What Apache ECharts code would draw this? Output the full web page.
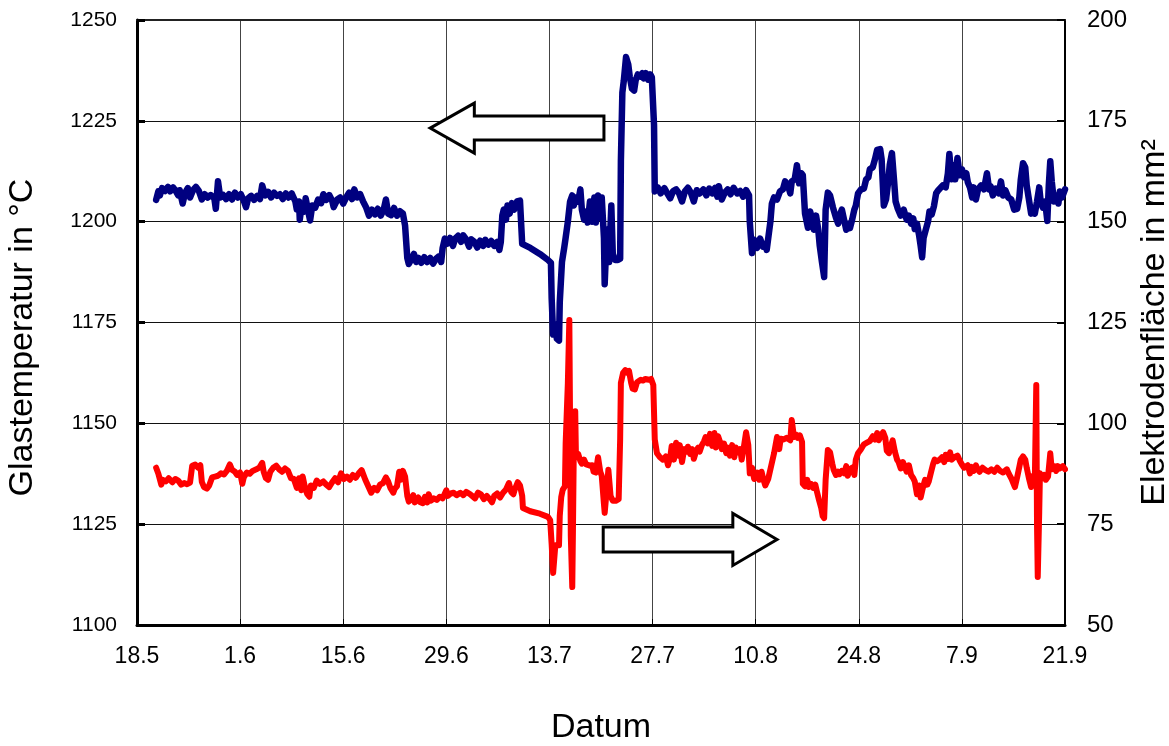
<!DOCTYPE html>
<html>
<head>
<meta charset="utf-8">
<script src="https://cdn.jsdelivr.net/npm/echarts@6/dist/echarts.min.js"></script>
<style>
  html, body { margin: 0; padding: 0; background: #fff; overflow: hidden; }
  #chart { width: 1169px; height: 746px; }
</style>
</head>
<body>
<div id="chart"></div>
<script>
// Datum tick labels, one every 14 days starting at 18.5
const datumLabels = ['18.5', '1.6', '15.6', '29.6', '13.7', '27.7', '10.8', '24.8', '7.9', '21.9'];
const tageProTick = 14;
const tageGesamt = 126;

// Glastemperatur in °C: [Tag seit 18.5, Wert]
const glastemperatur = [
  [2.6,1205.4],[2.9,1207.5],[3.1,1206.5],[3.4,1208.3],[3.8,1207.6],[4.2,1208.6],[4.5,1207.5],[4.9,1208.5],
  [5.2,1207.8],[5.6,1206.5],[5.8,1207.8],[6.2,1204.5],[6.5,1207.0],[6.9,1208.3],[7.2,1206.0],[7.6,1207.8],
  [8.0,1208.6],[8.4,1207.6],[8.8,1205.5],[9.2,1206.8],[9.6,1206.0],[10.0,1206.6],[10.5,1205.8],[10.7,1203.2],
  [11.0,1210.0],[11.3,1206.0],[11.7,1206.6],[12.1,1205.6],[12.5,1206.8],[12.9,1205.5],[13.3,1207.2],[13.7,1206.0],
  [14.1,1206.8],[14.5,1205.2],[14.8,1203.6],[15.1,1205.8],[15.5,1206.4],[15.9,1205.4],[16.3,1206.4],[16.7,1205.6],
  [17.0,1209.0],[17.4,1206.5],[17.8,1207.4],[18.2,1206.0],[18.6,1207.2],[19.0,1206.4],[19.4,1206.8],[19.8,1205.6],
  [20.2,1207.0],[20.6,1206.0],[21.0,1207.0],[21.5,1205.0],[21.7,1203.0],[22.0,1205.0],[22.1,1200.5],[22.4,1204.5],
  [22.7,1202.5],[22.9,1205.8],[23.2,1203.0],[23.5,1200.3],[23.8,1204.0],[24.2,1203.5],[24.6,1205.5],[25.0,1204.6],
  [25.3,1206.8],[25.7,1205.4],[26.1,1206.6],[26.5,1205.2],[26.7,1203.6],[27.2,1205.5],[27.6,1206.0],[28.0,1204.5],
  [28.4,1206.0],[28.8,1207.2],[29.2,1205.6],[29.5,1208.0],[29.9,1206.0],[30.3,1206.8],[30.7,1205.0],[31.1,1203.6],
  [31.5,1201.5],[31.9,1203.0],[32.3,1201.8],[32.7,1203.2],[33.1,1201.5],[33.5,1203.0],[33.8,1205.5],[34.1,1202.0],
  [34.5,1201.6],[34.9,1203.4],[35.3,1201.5],[35.7,1202.6],[36.1,1202.0],[36.4,1199.0],[36.7,1191.0],[36.9,1189.5],
  [37.3,1190.8],[37.6,1192.0],[37.9,1190.0],[38.2,1191.0],[38.6,1189.8],[39.0,1191.2],[39.4,1190.0],[39.8,1191.0],
  [40.2,1189.6],[40.6,1190.8],[41.0,1191.4],[41.3,1190.0],[41.5,1193.5],[41.8,1195.8],[42.1,1194.5],[42.5,1196.0],
  [42.9,1194.0],[43.2,1195.8],[43.6,1196.5],[44.0,1195.0],[44.3,1196.6],[44.7,1195.6],[45.1,1193.8],[45.4,1195.6],
  [45.8,1195.0],[46.2,1193.6],[46.6,1195.3],[47.0,1194.0],[47.3,1195.5],[47.7,1194.3],[48.1,1195.2],[48.5,1194.0],
  [48.9,1195.0],[49.2,1193.0],[49.4,1195.0],[49.6,1201.5],[49.8,1203.0],[50.1,1200.5],[50.3,1204.0],[50.6,1202.0],
  [50.9,1204.6],[51.2,1203.0],[51.6,1205.0],[52.0,1205.2],[52.3,1194.5],[53.4,1193.5],[54.7,1192.0],[55.8,1190.5],
  [56.2,1189.8],[56.3,1181.0],[56.5,1172.0],[56.8,1174.5],[57.0,1171.0],[57.3,1170.5],[57.4,1180.0],[57.7,1190.0],
  [58.0,1193.5],[58.2,1196.0],[58.5,1200.0],[58.8,1205.0],[59.1,1206.5],[59.3,1204.0],[59.6,1206.0],[59.9,1205.0],
  [60.2,1208.0],[60.4,1203.0],[60.7,1200.5],[61.0,1202.5],[61.2,1199.8],[61.5,1205.0],[61.8,1200.0],[62.1,1206.0],
  [62.3,1199.8],[62.6,1206.5],[62.9,1201.0],[63.1,1206.0],[63.4,1196.0],[63.5,1184.5],[63.8,1198.0],[64.1,1190.0],
  [64.4,1204.0],[64.6,1192.0],[64.9,1190.5],[65.3,1190.5],[65.6,1190.8],[65.7,1215.0],[65.9,1232.0],[66.1,1235.0],
  [66.4,1240.8],[66.7,1239.0],[66.9,1236.0],[67.2,1233.0],[67.5,1232.5],[67.7,1235.0],[68.0,1236.5],[68.3,1236.0],
  [68.6,1236.8],[68.8,1235.5],[69.1,1236.8],[69.4,1235.2],[69.7,1236.5],[69.9,1235.8],[70.2,1224.0],[70.3,1207.5],
  [70.7,1208.5],[71.1,1207.0],[71.6,1208.3],[72.0,1207.0],[72.4,1205.8],[72.8,1207.6],[73.2,1208.0],[73.6,1207.0],
  [74.0,1205.0],[74.4,1207.5],[74.8,1208.4],[75.2,1207.2],[75.6,1205.0],[76.0,1207.8],[76.4,1207.0],[76.9,1208.0],
  [77.3,1206.5],[77.7,1208.2],[78.1,1207.0],[78.5,1208.4],[78.8,1206.2],[79.0,1208.8],[79.4,1205.5],[79.8,1207.2],
  [80.2,1208.0],[80.6,1206.8],[81.0,1208.4],[81.5,1207.0],[81.9,1207.6],[82.3,1206.2],[82.7,1207.8],[83.1,1206.5],
  [83.2,1200.0],[83.5,1192.2],[83.8,1195.5],[84.2,1193.5],[84.6,1195.8],[85.0,1193.8],[85.3,1194.5],[85.5,1193.0],
  [86.0,1200.0],[86.2,1204.5],[86.5,1206.0],[86.9,1205.5],[87.3,1207.5],[87.7,1208.0],[88.0,1210.0],[88.4,1209.0],
  [88.7,1207.0],[88.9,1210.0],[89.3,1210.5],[89.6,1214.0],[89.9,1209.5],[90.2,1212.0],[90.4,1211.5],[90.7,1202.0],
  [91.1,1198.5],[91.4,1202.5],[91.6,1201.0],[91.9,1198.0],[92.2,1201.5],[92.5,1198.0],[92.7,1194.0],[93.0,1190.0],
  [93.3,1186.3],[93.5,1203.0],[93.8,1207.2],[94.1,1206.5],[94.5,1203.5],[94.9,1201.0],[95.2,1199.5],[95.4,1201.5],
  [95.7,1203.0],[96.0,1200.5],[96.3,1198.0],[96.5,1199.5],[96.8,1198.4],[97.1,1200.5],[97.4,1203.0],[97.6,1204.0],
  [97.9,1207.0],[98.3,1208.0],[98.7,1208.2],[99.0,1210.5],[99.3,1211.0],[99.5,1213.0],[99.9,1213.5],[100.2,1215.5],
  [100.5,1217.8],[100.9,1218.0],[101.1,1215.5],[101.4,1204.0],[101.7,1205.5],[102.0,1210.0],[102.2,1214.0],[102.5,1217.0],
  [102.8,1210.0],[103.0,1205.0],[103.3,1203.2],[103.7,1201.5],[104.1,1203.0],[104.5,1200.5],[104.8,1201.5],[105.1,1199.5],
  [105.4,1200.8],[105.6,1198.2],[105.9,1199.5],[106.2,1196.5],[106.4,1194.0],[106.6,1191.2],[106.8,1196.0],[107.1,1198.0],
  [107.4,1200.0],[107.6,1202.5],[107.9,1201.8],[108.2,1203.8],[108.5,1207.0],[108.8,1207.8],[109.0,1207.5],[109.4,1209.0],
  [109.8,1208.5],[110.1,1212.0],[110.3,1216.8],[110.6,1210.5],[110.9,1214.0],[111.1,1210.5],[111.4,1215.8],[111.7,1211.5],
  [112.0,1213.0],[112.3,1211.0],[112.6,1212.0],[112.8,1209.8],[113.1,1208.5],[113.4,1206.0],[113.6,1208.5],[113.9,1205.5],
  [114.2,1208.0],[114.6,1209.0],[115.0,1208.0],[115.4,1212.0],[115.7,1208.0],[115.9,1208.8],[116.2,1206.5],[116.6,1208.2],
  [117.0,1207.0],[117.3,1210.0],[117.6,1206.5],[117.9,1207.8],[118.3,1206.0],[118.7,1205.5],[119.1,1203.0],[119.5,1203.2],
  [119.8,1206.0],[120.0,1210.5],[120.3,1214.5],[120.6,1213.5],[120.8,1209.0],[121.1,1205.5],[121.4,1202.0],[121.7,1203.0],
  [121.9,1202.0],[122.2,1205.0],[122.5,1208.5],[122.7,1205.0],[123.0,1203.5],[123.3,1205.0],[123.6,1200.2],[123.8,1209.0],
  [124.0,1215.0],[124.2,1210.0],[124.5,1205.0],[124.8,1206.5],[125.1,1204.5],[125.3,1207.5],[125.6,1206.0],[126.0,1208.0]
];

// Elektrodenfläche in mm²: [Tag seit 18.5, Wert]
const elektrodenflaeche = [
  [2.6,89.0],[2.9,87.5],[3.3,84.8],[3.5,86.0],[3.9,85.6],[4.3,86.4],[4.8,85.4],[5.2,86.2],[5.6,85.8],[6.0,84.8],
  [6.4,85.2],[6.8,84.9],[7.2,85.3],[7.5,89.5],[7.9,89.8],[8.3,89.0],[8.6,89.6],[8.8,85.5],[9.1,84.2],[9.5,83.8],
  [9.8,84.6],[10.2,86.6],[10.6,86.8],[11.0,87.0],[11.4,87.6],[11.8,87.3],[12.2,88.2],[12.6,89.8],[12.9,88.5],[13.3,88.0],
  [13.6,87.2],[14.0,87.8],[14.3,85.0],[14.5,86.6],[14.9,87.8],[15.3,87.5],[15.7,88.2],[16.2,88.6],[16.6,89.0],[17.0,90.2],
  [17.2,88.0],[17.5,86.4],[17.8,86.0],[18.1,88.0],[18.5,89.0],[18.9,89.5],[19.3,88.6],[19.7,88.0],[20.1,88.8],[20.5,88.2],
  [20.9,86.4],[21.3,86.2],[21.7,84.0],[22.0,86.4],[22.3,83.4],[22.5,86.8],[22.8,84.2],[23.1,82.5],[23.4,81.8],[23.6,84.6],
  [24.0,84.0],[24.4,85.8],[24.8,85.0],[25.3,85.6],[25.7,84.8],[26.1,84.2],[26.5,85.4],[26.9,86.4],[27.3,85.4],[27.7,87.6],
  [28.1,86.2],[28.5,86.8],[28.9,86.0],[29.3,87.2],[29.7,86.5],[30.1,87.6],[30.5,88.4],[31.0,86.0],[31.4,84.4],[31.8,82.8],
  [32.2,84.0],[32.6,83.4],[33.0,84.8],[33.4,85.2],[33.8,86.6],[34.1,85.6],[34.4,84.0],[34.8,82.8],[35.0,83.8],[35.3,84.4],
  [35.6,88.0],[35.8,86.0],[36.1,88.2],[36.4,86.8],[36.7,82.0],[36.9,80.6],[37.2,81.2],[37.5,82.2],[37.7,80.4],[38.2,81.6],
  [38.4,80.5],[38.8,80.2],[39.1,81.8],[39.4,80.4],[39.6,82.4],[39.9,80.8],[40.3,81.4],[40.7,81.0],[41.1,81.8],[41.5,81.4],
  [42.0,83.4],[42.2,82.0],[42.6,82.6],[43.0,82.8],[43.4,82.2],[43.9,82.8],[44.3,82.2],[44.7,83.0],[45.1,82.6],[45.5,82.0],
  [45.9,81.4],[46.3,82.8],[46.7,82.4],[47.1,81.2],[47.5,82.0],[47.9,81.2],[48.2,80.4],[48.5,82.0],[48.9,82.6],[49.3,81.6],
  [49.7,82.8],[50.1,83.6],[50.5,85.2],[50.8,83.0],[51.1,82.4],[51.3,83.6],[51.7,85.4],[52.0,84.6],[52.3,82.0],[52.4,79.0],
  [53.4,78.2],[54.7,77.6],[55.8,76.8],[56.1,76.0],[56.3,70.0],[56.5,62.9],[56.8,69.8],[57.0,69.4],[57.3,69.8],[57.4,77.0],
  [57.6,81.7],[57.8,83.5],[58.1,84.4],[58.2,95.0],[58.5,110.0],[58.7,125.6],[58.8,100.0],[58.9,72.0],[59.1,59.4],[59.2,75.0],
  [59.3,92.6],[59.5,103.0],[59.6,91.6],[59.9,92.4],[60.2,90.6],[60.4,90.0],[60.7,91.0],[61.0,89.8],[61.2,90.2],[61.5,89.5],
  [61.8,89.6],[62.0,88.0],[62.3,87.8],[62.6,91.6],[62.9,88.0],[63.1,87.0],[63.4,80.0],[63.5,77.8],[63.8,84.0],[64.0,88.5],
  [64.3,82.0],[64.6,80.8],[65.0,80.8],[65.4,81.2],[65.6,96.0],[65.7,110.0],[66.0,112.5],[66.3,113.2],[66.5,112.6],[66.8,113.0],
  [67.1,110.0],[67.3,108.6],[67.6,108.4],[67.9,110.2],[68.1,110.5],[68.4,110.8],[68.7,110.6],[69.0,111.0],[69.2,111.4],[69.5,110.8],
  [69.8,111.0],[70.1,109.5],[70.3,96.0],[70.6,92.6],[71.0,91.6],[71.4,91.0],[71.8,91.8],[72.1,89.6],[72.4,91.6],[72.6,94.4],
  [72.9,91.0],[73.2,95.2],[73.5,92.0],[73.7,94.6],[74.0,90.4],[74.3,93.6],[74.6,93.0],[74.8,94.2],[75.1,92.4],[75.4,93.6],
  [75.6,91.2],[75.9,93.0],[76.2,94.0],[76.4,93.0],[76.7,94.6],[77.0,95.6],[77.2,96.6],[77.5,95.0],[77.8,97.4],[78.1,94.4],
  [78.4,97.6],[78.6,94.0],[78.9,96.8],[79.2,95.2],[79.4,93.6],[79.7,95.0],[80.0,92.6],[80.2,94.0],[80.5,92.0],[80.8,94.6],
  [81.1,91.6],[81.3,94.0],[81.6,92.8],[81.9,93.6],[82.1,91.0],[82.4,94.2],[82.7,97.8],[83.0,94.6],[83.2,87.6],[83.5,89.0],
  [83.8,86.2],[84.2,87.8],[84.5,86.0],[84.8,88.0],[85.0,86.4],[85.3,84.6],[85.7,86.2],[86.1,89.4],[86.5,92.6],[86.9,96.6],
  [87.2,93.6],[87.4,96.2],[87.8,96.0],[88.2,96.4],[88.7,95.8],[88.9,100.8],[89.2,96.6],[89.5,97.2],[89.7,96.4],[90.0,97.0],
  [90.3,95.4],[90.4,85.0],[90.7,84.4],[91.0,86.0],[91.2,84.2],[91.5,85.0],[91.8,84.0],[92.1,84.8],[92.3,83.2],[92.6,81.0],
  [92.9,79.0],[93.1,77.0],[93.3,76.5],[93.5,86.0],[93.8,93.4],[94.1,92.8],[94.4,90.0],[94.6,88.4],[94.9,87.2],[95.2,88.0],
  [95.4,87.4],[95.7,88.2],[96.0,87.6],[96.3,89.4],[96.5,87.0],[96.8,88.6],[97.1,89.0],[97.4,87.2],[97.6,91.0],[97.9,92.6],
  [98.3,93.6],[98.7,94.8],[99.1,95.2],[99.5,95.6],[99.9,96.8],[100.2,96.0],[100.5,97.6],[100.7,95.8],[101.0,96.8],[101.3,97.8],
  [101.6,96.4],[101.8,93.2],[102.1,92.6],[102.4,94.6],[102.6,95.8],[102.9,93.0],[103.2,91.0],[103.4,90.4],[103.7,88.8],[104.0,90.4],
  [104.3,89.0],[104.5,88.0],[104.8,89.6],[105.1,87.2],[105.4,86.4],[105.6,85.6],[105.9,82.4],[106.2,84.6],[106.4,81.6],[106.7,84.0],
  [107.0,86.0],[107.3,84.8],[107.5,85.6],[107.8,87.8],[108.1,90.0],[108.3,91.0],[108.6,90.6],[109.0,91.0],[109.3,91.6],[109.6,90.4],
  [109.8,92.2],[110.1,91.2],[110.4,92.8],[110.6,91.0],[111.0,91.6],[111.4,92.0],[111.7,90.8],[112.0,89.8],[112.3,89.0],[112.5,88.6],
  [112.8,89.6],[113.1,87.6],[113.3,89.2],[113.6,88.2],[113.9,89.6],[114.1,88.8],[114.4,88.0],[114.8,89.0],[115.2,88.4],[115.6,88.0],
  [116.0,88.6],[116.4,88.0],[116.8,89.0],[117.2,88.2],[117.6,87.8],[118.1,88.6],[118.4,87.4],[118.7,86.4],[118.9,86.4],[119.2,84.2],
  [119.5,86.6],[119.8,89.2],[120.0,91.0],[120.3,91.8],[120.6,91.0],[120.8,89.0],[121.1,86.4],[121.4,84.2],[121.7,87.0],[121.9,85.4],
  [122.1,109.5],[122.2,75.0],[122.3,61.9],[122.5,78.0],[122.6,87.6],[122.9,86.4],[123.2,87.2],[123.4,86.0],[123.7,86.8],[124.0,92.6],
  [124.2,88.6],[124.5,89.4],[124.8,88.2],[125.0,89.4],[125.3,88.8],[125.7,89.4],[126.0,88.6]
];

// Block arrows pointing to the axis each curve belongs to (day / °C on the left scale)
const pfeilLinks = { spitzeTag: 39.8, kopfTag: 45.8, endeTag: 63.4, hoehe: 1223.2 };
const pfeilRechts = { endeTag: 63.3, kopfTag: 80.9, spitzeTag: 86.9, hoehe: 1121.2 };

const schrift = "'Liberation Sans', Arial, Helvetica, sans-serif";
const chart = echarts.init(document.getElementById('chart'), null, { renderer: 'canvas' });

chart.setOption({
  animation: false,
  backgroundColor: '#ffffff',
  grid: { left: 137, right: 104, top: 20, bottom: 121, containLabel: false, outerBoundsMode: 'none' },
  xAxis: [
    {
      type: 'value', min: 0, max: tageGesamt, interval: tageProTick, position: 'bottom',
      name: 'Datum', nameLocation: 'middle', nameGap: 86,
      nameTextStyle: { fontSize: 34, color: '#000', fontFamily: schrift },
      axisLine: { show: true, onZero: false, lineStyle: { color: '#000', width: 3 } },
      axisTick: { show: true, inside: true, length: 6, lineStyle: { color: '#000', width: 1 } },
      axisLabel: {
        fontSize: 23, color: '#000', fontFamily: schrift, margin: 20,
        formatter: v => datumLabels[Math.round(v / tageProTick)]
      },
      splitLine: { show: true, lineStyle: { color: '#444', width: 1 } }
    },
    {
      type: 'value', min: 0, max: tageGesamt, position: 'top',
      axisLine: { show: true, onZero: false, lineStyle: { color: '#222', width: 2 } },
      axisTick: { show: false }, axisLabel: { show: false }, splitLine: { show: false }
    }
  ],
  yAxis: [
    {
      type: 'value', min: 1100, max: 1250, interval: 25, position: 'left',
      name: 'Glastemperatur in °C', nameLocation: 'middle', nameGap: 97, nameRotate: 90,
      nameTextStyle: { fontSize: 34, color: '#000', fontFamily: schrift, padding: [0, 30, 0, 0] },
      axisLine: { show: true, onZero: false, lineStyle: { color: '#000', width: 3 } },
      axisTick: { show: true, inside: true, length: 8, lineStyle: { color: '#000', width: 3 } },
      axisLabel: { fontSize: 21, color: '#000', fontFamily: schrift, margin: 20, formatter: v => String(v) },
      splitLine: { show: true, lineStyle: { color: '#111', width: 1 } }
    },
    {
      type: 'value', min: 50, max: 200, interval: 25, position: 'right',
      name: 'Elektrodenfläche in mm²', nameLocation: 'middle', nameGap: 63, nameRotate: 90,
      nameTextStyle: { fontSize: 34, color: '#000', fontFamily: schrift },
      axisLine: { show: true, onZero: false, lineStyle: { color: '#000', width: 2 } },
      axisTick: { show: true, inside: true, length: 8, lineStyle: { color: '#000', width: 2 } },
      axisLabel: { fontSize: 24, color: '#000', fontFamily: schrift, margin: 22, formatter: v => String(v) },
      splitLine: { show: false }
    }
  ],
  series: [
    {
      name: 'Glastemperatur', type: 'line', xAxisIndex: 0, yAxisIndex: 0,
      data: glastemperatur, showSymbol: false, symbol: 'none', smooth: false,
      lineStyle: { color: '#000080', width: 6.5, join: 'round', cap: 'round' }, z: 3
    },
    {
      name: 'Elektrodenfläche', type: 'line', xAxisIndex: 0, yAxisIndex: 1,
      data: elektrodenflaeche, showSymbol: false, symbol: 'none', smooth: false,
      lineStyle: { color: '#ff0000', width: 6, join: 'round', cap: 'round' }, z: 4
    }
  ]
});

// Outline arrows, positioned through the axes' own scales
function px(tag, wert) {
  return chart.convertToPixel({ xAxisIndex: 0, yAxisIndex: 0 }, [tag, wert]);
}
function blockPfeil(spitzeTag, kopfTag, endeTag, hoehe, schaft, kopf) {
  const s = px(spitzeTag, hoehe), k = px(kopfTag, hoehe), e = px(endeTag, hoehe);
  const y = s[1];
  return [
    [s[0], y], [k[0], y - kopf], [k[0], y - schaft], [e[0], y - schaft],
    [e[0], y + schaft], [k[0], y + schaft], [k[0], y + kopf]
  ];
}
const pfeilStil = { fill: '#ffffff', stroke: '#000000', lineWidth: 3, lineJoin: 'miter' };
chart.setOption({
  graphic: [
    { type: 'polygon', z: 100, shape: { points: blockPfeil(pfeilLinks.spitzeTag, pfeilLinks.kopfTag, pfeilLinks.endeTag, pfeilLinks.hoehe, 12, 25) }, style: pfeilStil },
    { type: 'polygon', z: 100, shape: { points: blockPfeil(pfeilRechts.spitzeTag, pfeilRechts.kopfTag, pfeilRechts.endeTag, pfeilRechts.hoehe, 12.5, 26) }, style: pfeilStil }
  ]
});
</script>
</body>
</html>
